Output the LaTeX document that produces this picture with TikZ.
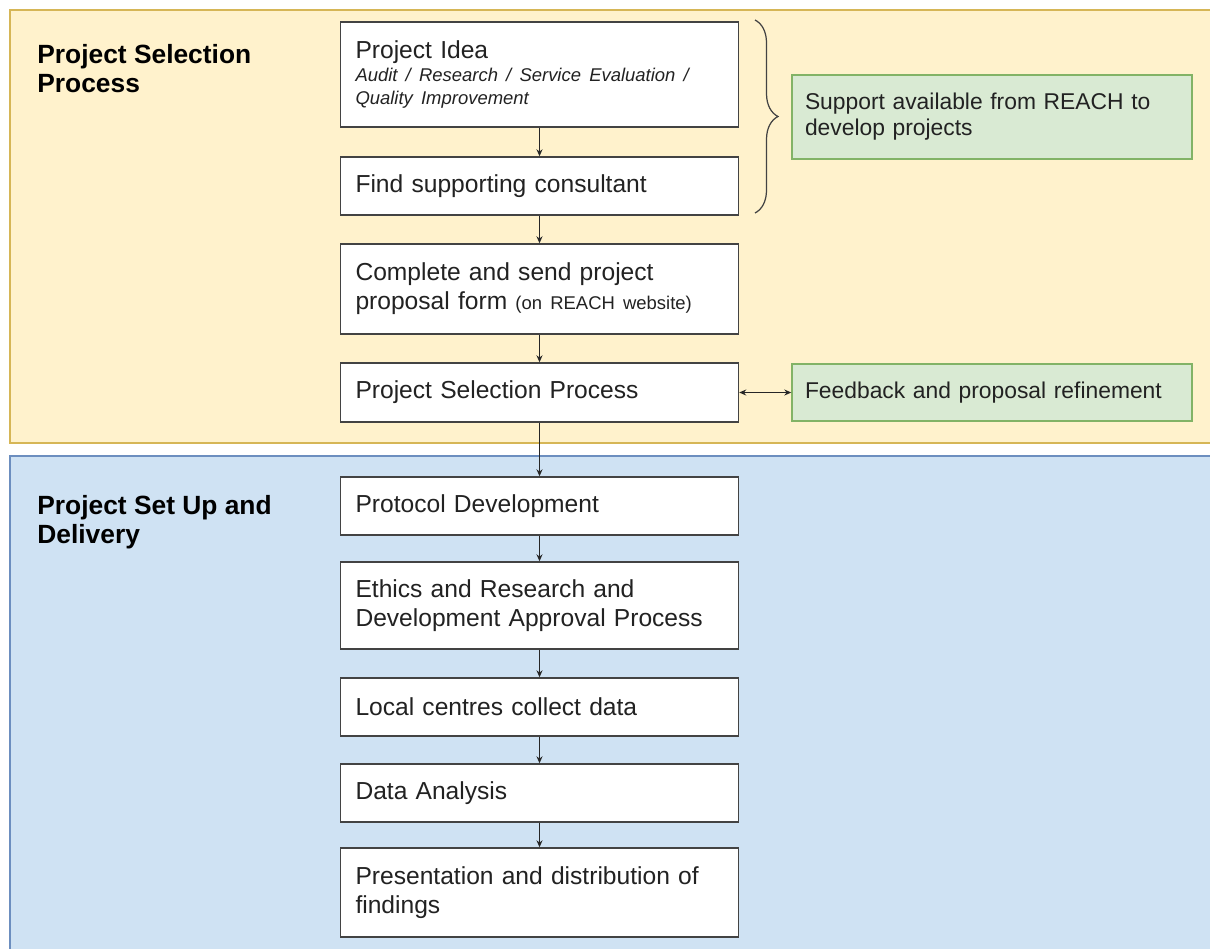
\documentclass[tikz,border=0pt]{standalone}
\usepackage{fontspec}
\setmainfont{Liberation Sans}
\usepackage{xcolor}
\usepackage{tikz}
\usetikzlibrary{arrows.meta,decorations.pathreplacing}
\definecolor{selfill}{HTML}{FFF2CC}
\definecolor{selline}{HTML}{D6B656}
\definecolor{delfill}{HTML}{CFE2F3}
\definecolor{delline}{HTML}{6C8EBF}
\definecolor{supfill}{HTML}{D9EAD3}
\definecolor{supline}{HTML}{82B366}
\definecolor{boxline}{HTML}{434343}
\definecolor{txt}{HTML}{222222}
\newcommand{\smalltype}{\fontsize{10.5}{13}\selectfont}

\begin{document}
\begin{tikzpicture}[x=0.2mm,y=-0.2mm]
\tikzstyle{steps}=[rectangle,draw=boxline,line width=0.8pt,fill=white,text=txt,text width=73.6mm,inner xsep=3mm,inner ysep=0pt,align=left,font=\fontsize{14}{16.4}\selectfont]
\tikzstyle{helps}=[rectangle,draw=supline,line width=0.8pt,fill=supfill,text=txt,text width=74.8mm,inner xsep=2.6mm,inner ysep=0pt,align=left,font=\fontsize{13}{14.7}\selectfont]
\tikzstyle{heads}=[anchor=north west,inner sep=0pt,align=left,text=black,font=\bfseries\fontsize{15}{16.8}\selectfont]
\tikzstyle{flow}=[-{Stealth[length=1.4mm,width=1.2mm]},line width=0.75pt,black!85]
\tikzstyle{twoway}=[{Stealth[length=1.4mm,width=1.2mm]}-{Stealth[length=1.4mm,width=1.2mm]},line width=0.75pt,black!85]

\useasboundingbox (0,0) rectangle (1210,948);
\filldraw[fill=selfill,draw=selline,line width=0.8pt] (10,10) rectangle (1225,443);
\filldraw[fill=delfill,draw=delline,line width=0.8pt] (10,456) rectangle (1225,960);

\node[heads] (selhead) at (37,44) {Project Selection\\Process};
\node[heads] (delhead) at (37,495) {Project Set Up and\\Delivery};

\node[steps,minimum height=21mm] (idea) at (539.5,74.5) {Project Idea\\{\smalltype\itshape Audit / Research / Service Evaluation /\\Quality Improvement\par}};
\node[steps,minimum height=11.6mm] (find) at (539.5,186) {Find supporting consultant};
\node[steps,minimum height=18mm] (form) at (539.5,289) {Complete and send project\\proposal form {\smalltype(on REACH website)}};
\node[steps,minimum height=11.8mm] (select) at (539.5,392.5) {Project Selection Process};
\node[steps,minimum height=11.6mm] (proto) at (539.5,506) {Protocol Development};
\node[steps,minimum height=17.4mm] (ethics) at (539.5,605.5) {Ethics and Research and\\Development Approval Process};
\node[steps,minimum height=11.6mm] (local) at (539.5,707) {Local centres collect data};
\node[steps,minimum height=11.6mm] (analysis) at (539.5,793) {Data Analysis};
\node[steps,minimum height=17.8mm] (present) at (539.5,892.5) {Presentation and distribution of\\findings};

\node[helps,minimum height=16.8mm] (support) at (992,117) {Support available from REACH to\\develop projects};
\node[helps,minimum height=11.4mm] (feedback) at (992,392.5) {Feedback and proposal refinement};

\draw[boxline,line width=0.7pt,decorate,decoration={brace,amplitude=4.6mm}] (755,20) -- (755,213);

\draw[flow] (idea) -- (find);
\draw[flow] (find) -- (form);
\draw[flow] (form) -- (select);
\draw[flow] (select) -- (proto);
\draw[flow] (proto) -- (ethics);
\draw[flow] (ethics) -- (local);
\draw[flow] (local) -- (analysis);
\draw[flow] (analysis) -- (present);
\draw[twoway] (select) -- (feedback);
\end{tikzpicture}
\end{document}
